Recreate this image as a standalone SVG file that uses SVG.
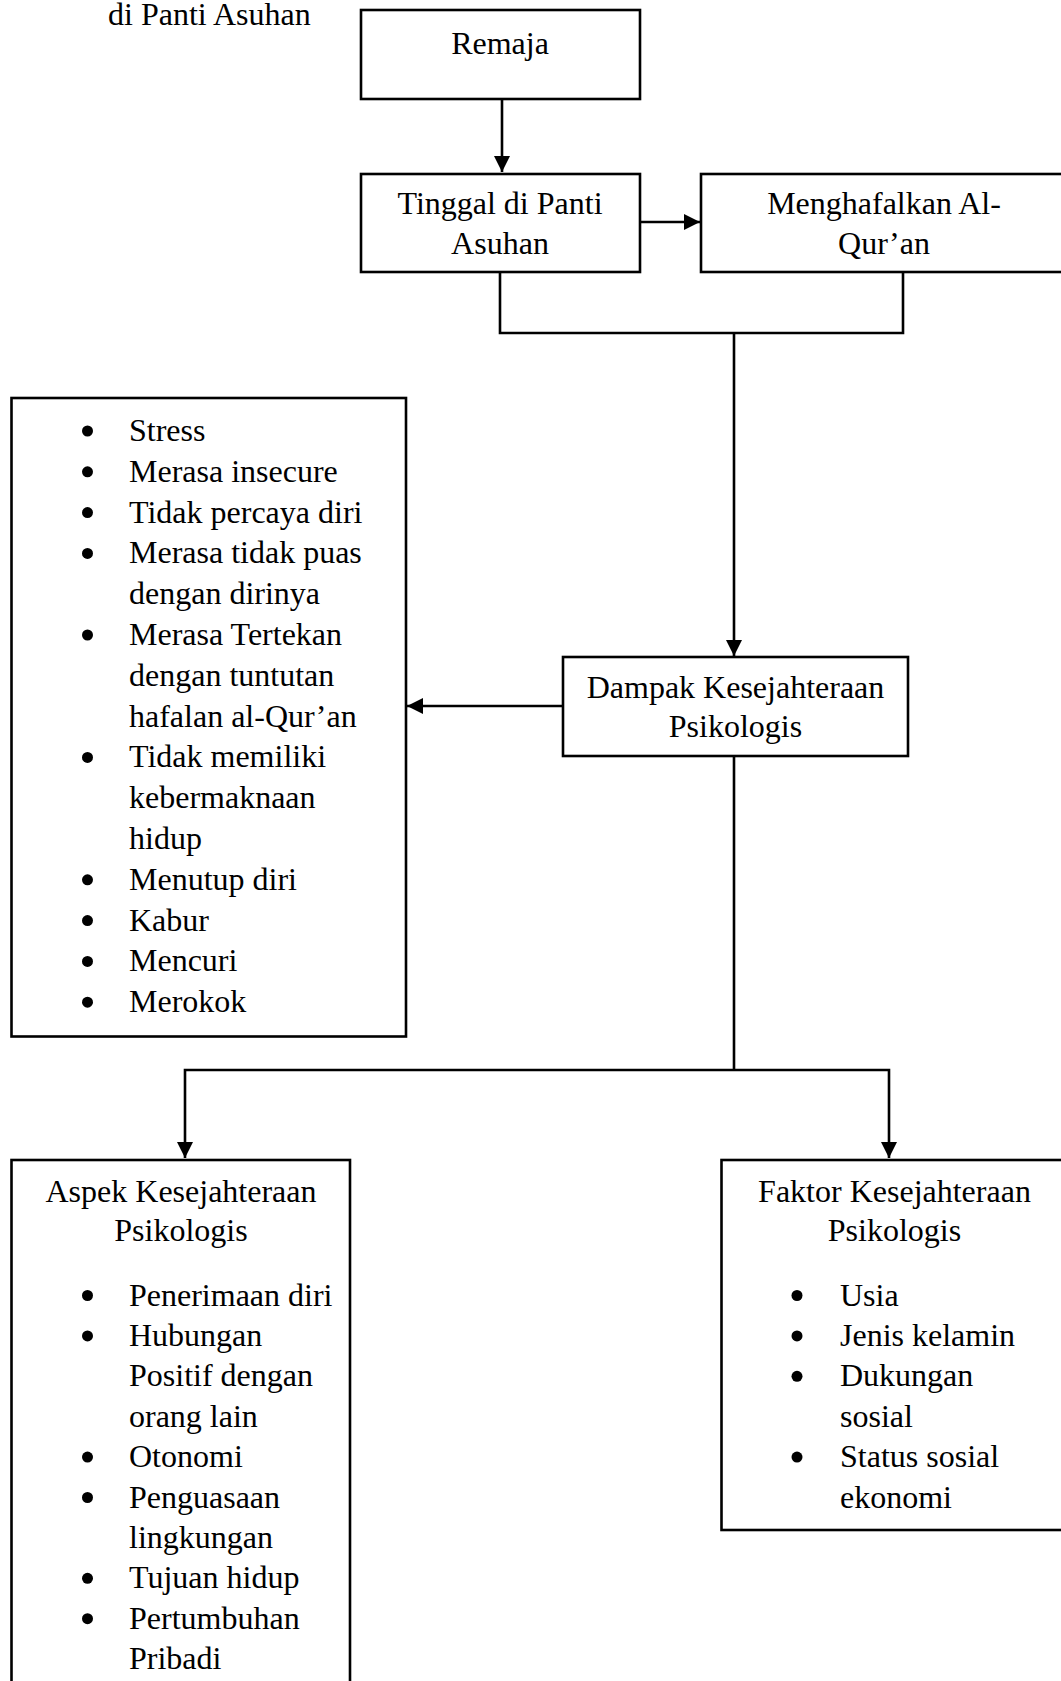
<svg xmlns="http://www.w3.org/2000/svg" width="1061" height="1681" viewBox="0 0 1061 1681">
<style>
  .box { fill: #fff; stroke: #000; stroke-width: 2.6; }
  .t { font-family: "Liberation Serif", "Times New Roman", serif; font-size: 32px; fill: #000; }
  .c { text-anchor: middle; }
  .ln { fill: none; stroke: #000; stroke-width: 2.6; }
  .arr { marker-end: url(#ah); }
  .b { fill: #000; }
</style>
<defs>
  <marker id="ah" markerUnits="userSpaceOnUse" markerWidth="16" markerHeight="16" refX="16" refY="8" orient="auto">
    <path d="M0,0 L16,8 L0,16 z" fill="#000"/>
  </marker>
</defs>
<rect width="1061" height="1681" fill="#fff"/>

<text class="t" x="108" y="25">di Panti Asuhan</text>

<g id="connectors">
  <line class="ln arr" x1="502" y1="99" x2="502" y2="172"/>
  <line class="ln arr" x1="640" y1="222" x2="700" y2="222"/>
  <polyline class="ln" points="500,272 500,333 903,333 903,272"/>
  <line class="ln arr" x1="734" y1="333" x2="734" y2="656"/>
  <line class="ln arr" x1="563" y1="706" x2="407" y2="706"/>
  <line class="ln" x1="734" y1="756" x2="734" y2="1070"/>
  <polyline class="ln arr" points="734,1070 185,1070 185,1158"/>
  <polyline class="ln arr" points="734,1070 889,1070 889,1158"/>
</g>

<g id="remaja">
  <rect class="box" x="361" y="10" width="279" height="89"/>
  <text class="t c" x="500" y="54">Remaja</text>
</g>

<g id="tinggal">
  <rect class="box" x="361" y="174" width="279" height="98"/>
  <text class="t c" x="500" y="214">Tinggal di Panti</text>
  <text class="t c" x="500" y="254">Asuhan</text>
</g>

<g id="menghafalkan">
  <rect class="box" x="701" y="174" width="366" height="98"/>
  <text class="t c" x="884" y="214">Menghafalkan Al-</text>
  <text class="t c" x="884" y="254">Qur’an</text>
</g>

<g id="dampak">
  <rect class="box" x="563" y="657" width="345" height="99"/>
  <text class="t c" x="735.5" y="697.5">Dampak Kesejahteraan</text>
  <text class="t c" x="735.5" y="737">Psikologis</text>
</g>

<g id="dampak-list">
  <rect class="box" x="11.5" y="398" width="394.5" height="638.5"/>
  <circle class="b" cx="87.5" cy="431" r="5.5"/>
  <circle class="b" cx="87.5" cy="471.8" r="5.5"/>
  <circle class="b" cx="87.5" cy="512.6" r="5.5"/>
  <circle class="b" cx="87.5" cy="553.4" r="5.5"/>
  <circle class="b" cx="87.5" cy="635" r="5.5"/>
  <circle class="b" cx="87.5" cy="757.4" r="5.5"/>
  <circle class="b" cx="87.5" cy="879.8" r="5.5"/>
  <circle class="b" cx="87.5" cy="920.6" r="5.5"/>
  <circle class="b" cx="87.5" cy="961.4" r="5.5"/>
  <circle class="b" cx="87.5" cy="1002.2" r="5.5"/>
  <text class="t" x="129" y="441">Stress</text>
  <text class="t" x="129" y="481.8">Merasa insecure</text>
  <text class="t" x="129" y="522.6">Tidak percaya diri</text>
  <text class="t" x="129" y="563.4">Merasa tidak puas</text>
  <text class="t" x="129" y="604.2">dengan dirinya</text>
  <text class="t" x="129" y="645">Merasa Tertekan</text>
  <text class="t" x="129" y="685.8">dengan tuntutan</text>
  <text class="t" x="129" y="726.6">hafalan al-Qur’an</text>
  <text class="t" x="129" y="767.4">Tidak memiliki</text>
  <text class="t" x="129" y="808.2">kebermaknaan</text>
  <text class="t" x="129" y="849">hidup</text>
  <text class="t" x="129" y="889.8">Menutup diri</text>
  <text class="t" x="129" y="930.6">Kabur</text>
  <text class="t" x="129" y="971.4">Mencuri</text>
  <text class="t" x="129" y="1012.2">Merokok</text>
</g>

<g id="aspek">
  <rect class="box" x="11.5" y="1160" width="338.5" height="540"/>
  <text class="t c" x="181" y="1201.5">Aspek Kesejahteraan</text>
  <text class="t c" x="181" y="1240.5">Psikologis</text>
  <circle class="b" cx="87.5" cy="1295.5" r="5.5"/>
  <circle class="b" cx="87.5" cy="1335.9" r="5.5"/>
  <circle class="b" cx="87.5" cy="1457.1" r="5.5"/>
  <circle class="b" cx="87.5" cy="1497.5" r="5.5"/>
  <circle class="b" cx="87.5" cy="1578.3" r="5.5"/>
  <circle class="b" cx="87.5" cy="1618.7" r="5.5"/>
  <text class="t" x="129" y="1305.5">Penerimaan diri</text>
  <text class="t" x="129" y="1345.9">Hubungan</text>
  <text class="t" x="129" y="1386.3">Positif dengan</text>
  <text class="t" x="129" y="1426.7">orang lain</text>
  <text class="t" x="129" y="1467.1">Otonomi</text>
  <text class="t" x="129" y="1507.5">Penguasaan</text>
  <text class="t" x="129" y="1547.9">lingkungan</text>
  <text class="t" x="129" y="1588.3">Tujuan hidup</text>
  <text class="t" x="129" y="1628.7">Pertumbuhan</text>
  <text class="t" x="129" y="1669.1">Pribadi</text>
</g>

<g id="faktor">
  <rect class="box" x="721.5" y="1160" width="346" height="370"/>
  <text class="t c" x="894.5" y="1201.5">Faktor Kesejahteraan</text>
  <text class="t c" x="894.5" y="1240.5">Psikologis</text>
  <circle class="b" cx="797" cy="1295.5" r="5.5"/>
  <circle class="b" cx="797" cy="1335.9" r="5.5"/>
  <circle class="b" cx="797" cy="1376.3" r="5.5"/>
  <circle class="b" cx="797" cy="1457.1" r="5.5"/>
  <text class="t" x="840" y="1305.5">Usia</text>
  <text class="t" x="840" y="1345.9">Jenis kelamin</text>
  <text class="t" x="840" y="1386.3">Dukungan</text>
  <text class="t" x="840" y="1426.7">sosial</text>
  <text class="t" x="840" y="1467.1">Status sosial</text>
  <text class="t" x="840" y="1507.5">ekonomi</text>
</g>
</svg>
